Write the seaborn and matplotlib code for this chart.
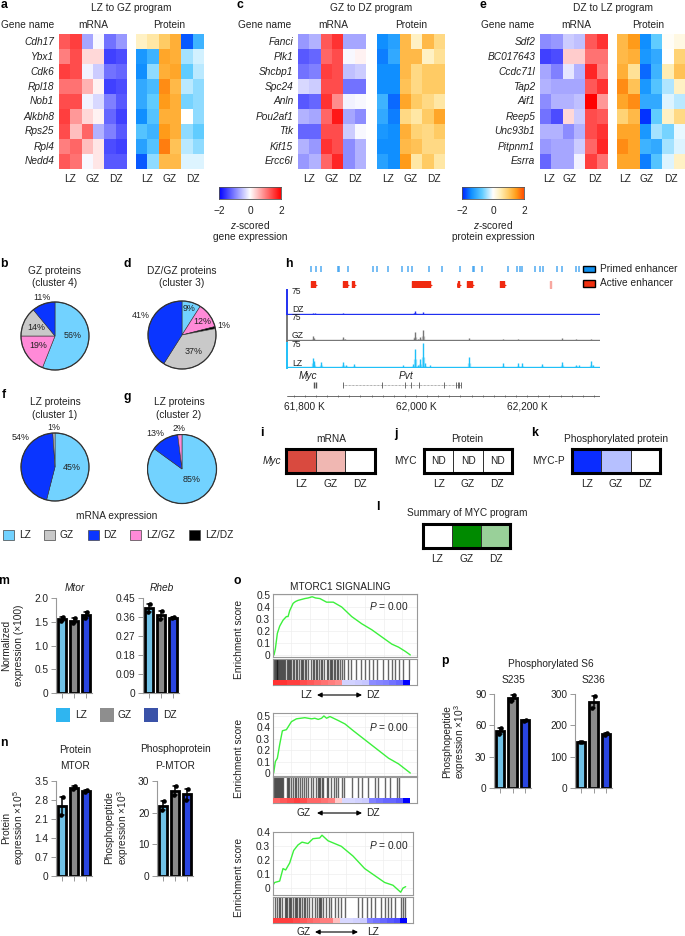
import numpy as np
import pandas as pd
import seaborn as sns
import matplotlib
matplotlib.use('Agg')
import matplotlib.pyplot as plt
from matplotlib.colors import LinearSegmentedColormap as LSC
from matplotlib.patches import Rectangle, FancyArrowPatch

W, H = 685, 936
sns.set_theme(style='white')
plt.rcParams['font.family'] = ['Liberation Sans', 'DejaVu Sans']
plt.rcParams['mathtext.fontset'] = 'custom'
plt.rcParams['mathtext.rm'] = 'Liberation Sans'
plt.rcParams['mathtext.it'] = 'Liberation Sans:italic'
plt.rcParams['mathtext.default'] = 'regular'
plt.rcParams['axes.unicode_minus'] = True
TXT = '#222222'
FS = 7.3

# ---------- heat map data ----------
genes_a = ['Cdh17', 'Ybx1', 'Cdk6', 'Rpl18', 'Nob1', 'Alkbh8', 'Rps25', 'Rpl4', 'Nedd4']
mrna_a = [[1.3, 1.5, -.7, -.05, -1.1, -.8], [1.0, 1.4, .3, .3, -1.5, -1.4], [1.5, 1.4, -.1, -.4, -1.1, -1.2],
          [1.1, 1.1, .6, .1, -1.5, -1.4], [1.4, 1.4, -.1, -.3, -1.0, -1.3], [1.5, .8, .3, .1, -1.2, -1.5],
          [1.4, .5, 1.2, -.6, -1.0, -1.3], [1.0, 1.2, .5, .2, -1.4, -1.5], [1.3, 1.1, -.05, .2, -1.3, -1.3]]
prot_a = [[.4, .6, 1.0, 1.3, -1.7, -1.0], [-1.3, -1.0, 1.4, 1.3, -.4, -.2], [-1.4, -.5, 1.3, 1.4, -.7, -.3],
          [-1.1, -.9, 1.6, 1.2, -.3, -.5], [-1.1, -.7, 1.5, 1.3, -.6, -.5], [-1.4, -.8, 1.3, 1.3, 0, -.5],
          [-.8, -1.0, 1.5, 1.3, -.5, -.7], [-1.2, -.8, 1.7, 1.1, -.3, -.5], [-1.7, -.5, 1.2, 1.2, -.15, -.15]]
genes_c = ['Fanci', 'Plk1', 'Shcbp1', 'Spc24', 'Anln', 'Pou2af1', 'Ttk', 'Kif15', 'Ercc6l']
mrna_c = [[-.8, -.6, 1.3, 1.6, -.7, -.7], [-1.3, -1.2, 1.2, 1.4, -.05, .1], [-1.1, -1.0, 1.5, 1.4, -.5, -.4],
          [-.3, -.4, 1.4, 1.4, -1.1, -1.1], [-1.3, -1.2, 1.6, .9, -.1, -.05], [-.6, -.7, 1.2, 1.8, -.7, -.9],
          [-1.2, -1.2, 1.4, 1.4, -.4, -.05], [-.6, -.8, 1.6, 1.4, -.9, -.6], [-.8, -.6, 1.2, 1.7, -.9, -.6]]
prot_c = [[-1.4, -1.2, 1.2, .4, 1.2, .8], [-1.5, -1.1, 1.2, 1.2, .4, .7], [-1.4, -1.4, 1.2, .8, 1.0, 1.0],
          [-1.4, -1.4, 1.1, .8, 1.0, 1.0], [-1.0, -1.6, 1.4, 1.0, .8, .6], [-1.1, -1.5, .8, .6, 1.0, 1.4],
          [-1.3, -1.4, 1.3, .9, .8, 1.0], [-1.4, -1.4, 1.2, 1.1, .8, .8], [-1.2, -1.4, 1.5, .6, 1.0, .6]]
genes_e = ['Sdf2', 'BC017643', 'Ccdc71l', 'Tap2', 'Aif1', 'Reep5', 'Unc93b1', 'Pitpnm1', 'Esrra']
mrna_e = [[-.9, -.8, -.4, -.5, 1.3, 1.6], [-1.5, -1.4, .4, .4, 1.1, 1.1], [-.7, -1.0, -.2, -.6, 1.7, 1.0],
          [-.6, -.7, -.7, -.7, 1.3, 1.6], [-.9, -.6, -.6, -.5, 2.0, .8], [-1.1, -1.4, .3, -.4, 1.4, 1.3],
          [-.6, -.6, -.9, -.6, 1.4, 1.6], [-.8, -.7, -.7, -.4, 1.2, 1.7], [-1.2, -.7, -.7, -.1, 1.5, 1.1]]
prot_e = [[1.2, 1.5, -1.4, -.7, .05, .2], [1.2, 1.3, -1.3, -1.1, 0, .9], [1.3, .7, -1.6, -1.0, .5, 1.1],
          [1.6, 1.1, -1.3, -.8, -.35, .4], [1.4, 1.6, -1.1, -1.1, -.15, -.3], [.9, 1.2, -1.9, -.7, .4, .8],
          [1.4, 1.4, -1.3, -.4, -.6, -.1], [1.6, 1.4, -1.0, -1.1, -.4, -.15], [1.4, 1.4, -1.5, -.8, -.15, .4]]
zones = ['LZ', 'GZ', 'DZ']

# ---------- pie data ----------
pie_names = ['LZ', 'GZ', 'DZ', 'LZ/GZ', 'LZ/DZ']
pie_colors = {'LZ': '#72d2ff', 'GZ': '#c9c9c9', 'DZ': '#0a35ff', 'LZ/GZ': '#ff8ad8', 'LZ/DZ': '#000000'}
pie_b = (['LZ', 'LZ/GZ', 'GZ', 'DZ'], [56, 19, 14, 11], ['56%', '19%', '14%', '11%'])
pie_d = (['LZ', 'LZ/GZ', 'LZ/DZ', 'GZ', 'DZ'], [9, 12, 1, 37, 41], ['9%', '12%', '1%', '37%', '41%'])
pie_f = (['LZ', 'DZ', 'GZ'], [54, 45, 1], ['45%', '54%', '1%'])
pie_g = (['LZ', 'DZ', 'LZ/GZ'], [85, 13, 2], ['85%', '13%', '2%'])

# ---------- track data (kb) ----------
primed_kb = [61812, 61820, 61829, 61860, 61862, 61877, 61922, 61929, 61950, 61974, 61986, 61992, 62023, 62047,
             62080, 62102, 62105, 62118, 62166, 62181, 62187, 62190, 62214, 62223, 62229, 62254, 62263, 62288, 62293]
active_kb = [(61812, 6), (61868, 8), (61885, 3), (61992, 27), (62022, 4), (62075, 3), (62091, 10), (62151, 8), (62241, 1.5)]
lz_kb = [61814, 61817, 61830, 61869, 61875, 61888, 61923, 61976, 61995, 61999, 62004, 62008, 62012, 62016, 62026,
         62076, 62096, 62103, 62141, 62157, 62183, 62190, 62226, 62262, 62288, 62293, 62314, 62318]
lz_h = [30, 20, 18, 18, 10, 12, 4, 8, 12, 58, 10, 28, 75, 15, 8, 4, 34, 4, 4, 14, 14, 14, 12, 18, 10, 8, 20, 8]
gz_kb = [61814, 61817, 61869, 61873, 61976, 61996, 61999, 62004, 62008, 62013, 62018, 62096, 62157, 62183, 62190,
         62262, 62288, 62293, 62314]
gz_h = [16, 10, 12, 6, 4, 10, 26, 6, 12, 32, 4, 10, 5, 6, 4, 8, 7, 3, 6]
dz_kb = [61814, 61818, 61869, 61923, 61976, 61996, 61999, 62012, 62016, 62096, 62157, 62262, 62288, 62314]
dz_h = [7, 7, 5, 2, 2, 5, 12, 10, 3, 2, 3, 2, 2, 2]
pvt_exons = [61869, 61938, 61980, 61991, 62006, 62050, 62072, 62075, 62078, 62081]
myc_exons = [61817, 61820]
ruler_labels = {61800: '61,800 K', 62000: '62,000 K', 62200: '62,200 K'}

# ---------- small heat strips ----------
myc_mrna = [1.0, .4, 0]
myc_phos = [1.0, .3, 0]
myc_summary = [0, 1.0, .4]

# ---------- bar data: two replicates per zone ----------
bars = {
    'Mtor': [[1.52, 1.6], [1.47, 1.58], [1.58, 1.7]],
    'Rheb': [[.385, .42], [.35, .39], [.355, .36]],
    'MTOR': [[2.25, 2.9], [3.2, 3.3], [3.08, 3.16]],
    'P-MTOR': [[20.8, 23.6], [25.5, 28.5], [24, 27.5]],
    'S235': [[52, 57], [83, 89], [64.5, 65.5]],
    'S236': [[146, 148], [255, 295], [168, 175]],
}
bar_colors = ['#5cc8fa', '#8a8a8a', '#0a30ff']

# ---------- GSEA data ----------
rank1 = [148, 152, 158, 165, 175, 185, 190, 195, 205, 212, 220, 240, 250, 262, 272, 285, 295, 305, 315, 325, 350, 380, 410, 440, 470, 500, 520, 540, 555]
es1 = [0, .05, .18, .24, .29, .32, .32, .37, .43, .445, .455, .47, .475, .485, .475, .47, .455, .44, .44, .44, .40, .32, .26, .21, .15, .09, .065, .03, 0]
rank2 = [147, 152, 158, 165, 173, 185, 200, 215, 240, 250, 260, 270, 280, 290, 297, 305, 315, 340, 360, 385, 420, 455, 490, 520, 555]
es2 = [0, .1, .13, .25, .37, .38, .45, .475, .485, .48, .475, .48, .47, .48, .5, .48, .495, .46, .43, .37, .29, .21, .13, .08, 0]
rank3 = [145, 150, 165, 175, 183, 195, 207, 220, 232, 250, 265, 285, 292, 310, 350, 385, 420, 450, 480, 505, 528, 535, 543]
es3 = [.02, .04, .05, .14, .13, .18, .27, .31, .33, .32, .355, .36, .38, .34, .30, .23, .14, .09, .04, .02, -.03, 0, .01]
hits1 = [149, 151, 153, 156, 158, 160, 163, 166, 168, 172, 175, 178, 182, 186, 190, 193, 196, 200, 204, 208, 213, 218, 222, 228, 232, 236, 240, 244, 250, 258, 264, 268, 272, 276, 283, 288, 292, 298, 306, 310, 314, 318, 322, 326, 330, 335, 340, 346, 352, 358, 368, 378, 392, 408, 420, 432, 444, 456, 472, 488, 500, 508, 520, 532, 550]
hits2 = [148, 150, 153, 156, 159, 162, 165, 168, 171, 174, 186, 190, 194, 200, 206, 210, 214, 220, 226, 232, 238, 244, 250, 258, 264, 272, 278, 282, 286, 290, 294, 306, 310, 318, 326, 332, 340, 350, 358, 382, 398, 412, 428, 450, 458, 478, 494, 516, 522]
hits3 = [150, 158, 163, 166, 172, 180, 183, 187, 192, 196, 200, 205, 210, 214, 218, 222, 226, 232, 238, 242, 248, 254, 262, 270, 276, 282, 286, 290, 296, 304, 312, 320, 330, 340, 350, 362, 400, 412, 428, 438, 452, 470, 480, 490, 498, 510, 528, 536, 540]
strip1 = [1.6, 1.6, 1.5, 1.5, 1.4, 1.3, 1.2, 1.1, 1.0, .9, -.35, -.35, -.4, -.45, -.9, -.95, -1.0, -1.1, -1.2, -2]
strip2 = [1.2, 1.3, 1.4, 1.5, 1.4, 1.2, 1.2, 1.1, 1.0, .4, -.3, -.3, -.35, -.4, -1.0, -1.1, -1.2, -1.2, -1.3, -2]
strip3 = [1.5, 1.5, 1.5, 1.4, 1.3, 1.2, 1.1, 1.0, 1.0, .5, -.3, -.3, -.35, -.4, -1.0, -1.1, -1.2, -1.3, -1.4, -2]

# ---------- helpers ----------
fig = plt.figure(figsize=(W / 100, H / 100), dpi=100, facecolor='white')


def axpx(x0, y0, x1, y1, **kw):
    return fig.add_axes([x0 / W, 1 - y1 / H, (x1 - x0) / W, (y1 - y0) / H], **kw)


def T(x, y, s, ha='center', va='center', size=FS, color=TXT, **kw):
    return fig.text(x / W, 1 - y / H, s, ha=ha, va=va, fontsize=size, color=color, **kw)


prot_cmap = LSC.from_list('prot', [(0, '#0020ff'), (.15, '#1090ff'), (.325, '#60ccff'), (.5, '#ffffff'),
                                   (.625, '#ffeeb5'), (.75, '#ffcc66'), (.875, '#ff9d1a'), (1, '#ff4d00')])
gene_cmap = 'bwr'


def heat(vals, x0, x1, y0, y1, cmap, genes=None, ticks=(1, 3, 5)):
    ax = axpx(x0, y0, x1, y1)
    sns.heatmap(np.array(vals), cmap=cmap, vmin=-2, vmax=2, cbar=False, ax=ax, xticklabels=False,
                yticklabels=genes if genes else False)
    ax.set_xticks(list(ticks))
    ax.set_xticklabels(zones, fontsize=FS, color=TXT, rotation=0)
    ax.tick_params(axis='both', length=0, pad=3.6)
    if genes:
        ax.set_yticklabels(genes, rotation=0, style='italic', fontsize=FS, color=TXT)
        ax.tick_params(axis='y', pad=3.4)
    return ax


Y0, Y1 = 34, 169
heat(mrna_a, 59, 127, Y0, Y1, gene_cmap, genes_a)
heat(prot_a, 136, 204, Y0, Y1, prot_cmap)
heat(mrna_c, 298, 366, Y0, Y1, gene_cmap, genes_c)
heat(prot_c, 377, 445, Y0, Y1, prot_cmap)
heat(mrna_e, 540, 608, Y0, Y1, gene_cmap, genes_e, ticks=(.8, 2.65, 4.85))
heat(prot_e, 617, 685, Y0, Y1, prot_cmap, ticks=(.7, 2.65, 4.8))

for cx, t in [(131, 'LZ to GZ program'), (371, 'GZ to DZ program'), (613, 'DZ to LZ program')]:
    T(cx, 8, t)
T(54, 25, 'Gene name', ha='right'); T(93, 25, 'mRNA'); T(169, 25, 'Protein')
T(291, 25, 'Gene name', ha='right'); T(333, 25, 'mRNA'); T(411, 25, 'Protein')
T(534, 25, 'Gene name', ha='right'); T(576, 25, 'mRNA'); T(648, 25, 'Protein')

# colour bars
grad = np.linspace(-2, 2, 256)[None, :]
for x0, cmap, cx, lab in [(219, gene_cmap, 250, 'gene expression'), (462, prot_cmap, 493, 'protein expression')]:
    ax = axpx(x0, 187, x0 + 62, 199)
    ax.imshow(grad, cmap=cmap, vmin=-2, vmax=2, aspect='auto', extent=(-2, 2, 0, 1))
    ax.set_yticks([])
    ax.set_xticks([-2, -1, 0, 1, 2])
    ax.set_xticklabels(['\u22122', '', '0', '', '2'], fontsize=FS, color=TXT)
    ax.tick_params(axis='x', length=2, width=.6, pad=3, color='#555555')
    for s in ax.spines.values():
        s.set_linewidth(.6); s.set_color('#555555')
    T(cx, 225, '$\\mathit{z}$-scored')
    T(cx, 237, lab)


# ---------- pies ----------
def pie(cx, cy, r, spec):
    names, vals, _ = spec
    ax = axpx(cx - r - 1, cy - r - 1, cx + r + 1, cy + r + 1)
    ax.pie(vals, colors=[pie_colors[n] for n in names], startangle=90, counterclock=False,
           radius=r / (r + 1), wedgeprops=dict(edgecolor='#333333', linewidth=.4))
    ax.set_xlim(-1, 1); ax.set_ylim(-1, 1)
    ax.add_patch(plt.Circle((0, 0), r / (r + 1), fill=False, ec='#333333', lw=.9))


pie(55, 336, 34, pie_b); pie(182, 335, 34, pie_d); pie(55, 467, 34, pie_f); pie(182, 469, 34.5, pie_g)
PS = 6.4
for (x, y), s in zip([(73, 336), (38, 346), (36, 328), (42, 297)], pie_b[2]):
    T(x, y, s, size=PS)
for (x, y), s in zip([(189, 309), (202, 321), (224, 325), (194, 351), (141, 315)], pie_d[2]):
    T(x, y, s, size=PS)
for (x, y), s in zip([(72, 468), (21, 438), (54, 428)], pie_f[2]):
    T(x, y, s, size=PS)
for (x, y), s in zip([(192, 480), (155, 434), (179, 429)], pie_g[2]):
    T(x, y, s, size=PS)
T(55, 271, 'GZ proteins'); T(55, 283.5, '(cluster 4)')
T(182, 271, 'DZ/GZ proteins'); T(182, 283.5, '(cluster 3)')
T(55, 402, 'LZ proteins'); T(55, 414.5, '(cluster 1)')
T(179, 402, 'LZ proteins'); T(179, 414.5, '(cluster 2)')
T(117, 516, 'mRNA expression')
for (sx, tx), n in zip([(3, 19), (44, 59), (88, 103), (130, 146), (189, 205)], pie_names):
    fig.add_artist(Rectangle((sx / W, 1 - 540 / H), 11 / W, 10 / H, transform=fig.transFigure,
                             fc=pie_colors[n], ec='#444444', lw=.5))
    T(tx, 535, n, ha='left')

# ---------- h: tracks ----------
X0, X1 = 287, 600
KB0, KB1 = 61768, 62331


def trackax(y0, y1):
    ax = axpx(X0, y0, X1, y1)
    ax.set_xlim(KB0, KB1)
    ax.set_xticks([]); ax.set_yticks([])
    ax.patch.set_alpha(0)
    for s in ax.spines.values():
        s.set_visible(False)
    return ax


ax = trackax(266, 272)
ax.vlines(primed_kb, 0, 1, color='#3aa0f0', lw=1.3, alpha=.75)
ax.set_ylim(0, 1)
ax = trackax(281, 288)
ax.broken_barh(active_kb[:-1], (0, 1), color='#f02a10')
ax.broken_barh(active_kb[-1:], (0, 1), color='#f8a8a0')
ax.scatter([s + w for s, w in active_kb[:-1]], [.5] * 8, marker='>', s=12, color='#f02a10', linewidth=0, clip_on=False)
ax.set_ylim(0, 1)
for (y0, y1, c, kb, h, lab) in [(290, 315, '#2030f0', dz_kb, dz_h, 'DZ'), (316, 341, '#777777', gz_kb, gz_h, 'GZ'),
                                (343, 368, '#20c0f8', lz_kb, lz_h, 'LZ')]:
    ax = trackax(y0, y1)
    ax.set_ylim(0, 75)
    ax.vlines(kb, 0, h, color=c, lw=1.0)
    ax.vlines(kb, 0, np.array(h) * .45, color=c, lw=2.4, alpha=.45)
    ax.axhline(0, color=c, lw=1.7)
    ax.spines['left'].set_visible(True)
    ax.spines['left'].set_color(c)
    ax.spines['left'].set_linewidth(1.4)
    T(292, y0 + 1.5, '75', ha='left', size=6.2)
    T(292, y1 - 5, lab, ha='left', size=6.2)
ax = trackax(378, 400)
ax.set_ylim(400, 378)
ax.vlines(myc_exons, 382, 388, color='#555555', lw=1)
ax.plot([pvt_exons[0], pvt_exons[-1]], [385, 385], color='#666666', lw=.5, ls=(0, (1, 1)))
ax.vlines(pvt_exons, 382, 388, color='#555555', lw=.6)
ax.axhline(396, color='#555555', lw=.6)
ax.vlines(np.arange(61780, 62331, 20), 395, 397, color='#555555', lw=.5)
for k, s in ruler_labels.items():
    ax.text(k, 406.5, s, ha='center', va='center', fontsize=FS, color=TXT, clip_on=False)
T(308, 376, 'Myc', style='italic'); T(406, 376, 'Pvt', style='italic')
for y, c, s in [(269, '#1090f0', 'Primed enhancer'), (283.5, '#f03010', 'Active enhancer')]:
    fig.add_artist(Rectangle((583 / W, 1 - (y + 3.3) / H), 12 / W, 6.6 / H, transform=fig.transFigure,
                             fc=c, ec='black', lw=1))
    T(600, y, s, ha='left')


# ---------- i j k l ----------
def strip(vals, x0, y0, x1, y1, color, annot=None):
    ax = axpx(x0, y0, x1, y1)
    sns.heatmap(np.array([vals]), cmap=LSC.from_list('s', ['#ffffff', color]), vmin=0, vmax=1, cbar=False, ax=ax,
                linewidths=.7, linecolor='#333333', annot=annot, fmt='', annot_kws=dict(fontsize=FS, color=TXT),
                xticklabels=False, yticklabels=False)
    for s in ax.spines.values():
        s.set_visible(True); s.set_color('black'); s.set_linewidth(2.2)
    ax.set_xticks([.5, 1.5, 2.5])
    ax.set_xticklabels(zones, fontsize=FS, color=TXT, rotation=0)
    ax.tick_params(axis='x', length=0, pad=4.5)


strip(myc_mrna, 286, 449, 375, 473, '#d94a3f')
strip([0, 0, 0], 424, 449, 512, 473, '#ffffff', annot=[['ND', 'ND', 'ND']])
strip(myc_phos, 572, 449, 660, 473, '#0a2cff')
strip(myc_summary, 423, 523.5, 510, 547.5, '#008a00')
T(331, 439, 'mRNA'); T(467, 439, 'Protein'); T(616, 439, 'Phosphorylated protein')
T(467, 513, 'Summary of MYC program')
T(281, 461, 'Myc', ha='right', style='italic'); T(417, 461, 'MYC', ha='right'); T(565, 461, 'MYC-P', ha='right')


# ---------- bars ----------
def barp(key, x0, x1, y0, y1, ymax, ticks, labels):
    ax = axpx(x0, y0, x1, y1)
    rep = bars[key]
    df = pd.DataFrame({'zone': [z for z in zones for _ in range(2)], 'v': [v for r in rep for v in r]})
    sns.barplot(df, x='zone', y='v', hue='zone', order=zones, hue_order=zones, palette=bar_colors, legend=False,
                width=.68, edgecolor='black', linewidth=2.0, errorbar='se', capsize=.3,
                err_kws=dict(color='black', linewidth=1.1), ax=ax)
    dots = pd.DataFrame({'x': [i + o for i in range(3) for o in (-.1, .1)], 'v': df['v']})
    sns.scatterplot(dots, x='x', y='v', color='black', s=11, linewidth=0, ax=ax, zorder=5, clip_on=False)
    ax.set_xlim(-.5, 2.5); ax.set_ylim(0, ymax)
    ax.set_xlabel(''); ax.set_ylabel('')
    ax.set_xticks([0, 1, 2]); ax.set_xticklabels([])
    ax.set_yticks(ticks); ax.set_yticklabels(labels, fontsize=FS, color=TXT)
    ax.tick_params(axis='both', length=3.5, width=.7, color='#999999', pad=2, left=True, bottom=True)
    for s in ['top', 'right']:
        ax.spines[s].set_visible(False)
    for s in ['left', 'bottom']:
        ax.spines[s].set_color('#999999'); ax.spines[s].set_linewidth(.8)


barp('Mtor', 56, 92, 598, 693, 2.0, [0, .5, 1, 1.5, 2], ['0', '0.5', '1.0', '1.5', '2.0'])
barp('Rheb', 143, 179, 598, 693, .45, [0, .09, .18, .27, .36, .45], ['0', '0.09', '0.18', '0.27', '0.36', '0.45'])
barp('MTOR', 56, 92, 781, 876, 3.5, [0, .7, 1.4, 2.1, 2.8, 3.5], ['0', '0.7', '1.4', '2.1', '2.8', '3.5'])
barp('P-MTOR', 157, 193, 781, 876, 30, [0, 10, 20, 30], ['0', '10', '20', '30'])
barp('S235', 494, 531, 694, 788, 90, [0, 30, 60, 90], ['0', '30', '60', '90'])
barp('S236', 575, 612, 694, 788, 300, [0, 100, 200, 300], ['0', '100', '200', '300'])
T(75, 588, 'Mtor', style='italic'); T(162, 588, 'Rheb', style='italic')
T(6, 645, 'Normalized', rotation=90); T(19, 645, 'expression (\u00d7100)', rotation=90)
for (a, b), c, n in zip([(56, 75), (100, 118), (144, 163)], ['#2fb5f0', '#8e8e8e', '#3a52a8'], zones):
    fig.add_artist(Rectangle((a / W, 1 - 722 / H), 14 / W, 14 / H, transform=fig.transFigure, fc=c, ec='none'))
    T(b, 715, n, ha='left')
T(75, 750, 'Protein'); T(75, 766, 'MTOR')
T(175, 749, 'Phosphoprotein'); T(175, 766, 'P-MTOR')
T(6, 828, 'Protein', rotation=90); T(19, 828, 'expression \u00d710$^{5}$', rotation=90)
T(109, 828, 'Phosphopeptide', rotation=90); T(123, 828, 'expression \u00d710$^{3}$', rotation=90)
T(551, 664, 'Phosphorylated S6'); T(513, 680, 'S235'); T(593, 680, 'S236')
T(447, 742, 'Phosphopeptide', rotation=90); T(460, 742, 'expression \u00d710$^{3}$', rotation=90)


# ---------- o: GSEA ----------
def gsea(rank, es, hits, stripv, xr, xlim_r, ytop, ybot, ylim, yt, hy0, hy1, sy0, sxr):
    ax = axpx(273, ytop, xr, ybot)
    sns.lineplot(x=rank, y=es, color='#3cf03c', lw=1.0, ax=ax, estimator=None, sort=False)
    ax.set_xlim(145, xlim_r); ax.set_ylim(*ylim)
    ax.set_yticks(yt)
    ax.set_yticklabels(['0' if v == 0 else f'{v:.1f}' for v in yt], fontsize=FS, color=TXT)
    ax.set_xticks(np.arange(200, xlim_r, 55))
    ax.set_xticklabels([])
    ax.grid(True, color='#eeeeee', lw=.5)
    ax.tick_params(length=0, pad=2)
    for s in ax.spines.values():
        s.set_color('#999999'); s.set_linewidth(.8)
    ah = axpx(273, hy0, xr, hy1)
    ah.vlines(hits, sy0, hy0, color='black', lw=1.0, alpha=.6)
    ah.set_xlim(145, xlim_r); ah.set_ylim(hy1, hy0)
    ah.set_xticks([]); ah.set_yticks([])
    for s in ah.spines.values():
        s.set_color('#999999'); s.set_linewidth(.8)
    ast = axpx(273, sy0, sxr, hy1)
    sns.heatmap(np.array([stripv]), cmap=gene_cmap, vmin=-2, vmax=2, cbar=False, ax=ast,
                xticklabels=False, yticklabels=False)


gsea(rank1, es1, hits1, strip1, 417, 575, 594, 657, (-.017, .508), [0, .1, .2, .3, .4, .5], 659, 685, 680, 410)
gsea(rank2, es2, hits2, strip2, 417, 575, 713, 776, (-.026, .526), [0, .1, .2, .3, .4, .5], 777, 803, 798, 410)
gsea(rank3, es3, hits3, strip3, 413, 565, 832, 895, (-.05, .403), [0, .1, .2, .3, .4], 897, 923, 918, 407)
T(340, 587, 'MTORC1 SIGNALING')
for y, yp in [(639, 606), (758, 727), (877, 845)]:
    T(239, y, 'Enrichment score', rotation=90)
    T(409, yp, '$\\mathit{P}$ = 0.00', ha='right')
for y, a, b, xa, xb, x2 in [(695, 'LZ', 'DZ', 317, 362, 306), (813, 'GZ', 'DZ', 317, 362, 304), (932, 'GZ', 'LZ', 315, 358, 304)]:
    T(x2, y, a); T(373, y, b)
    fig.add_artist(FancyArrowPatch((xa / W, 1 - y / H), (xb / W, 1 - y / H), transform=fig.transFigure,
                                   arrowstyle='<|-|>', mutation_scale=7, color='black', lw=.8, shrinkA=0, shrinkB=0))

# ---------- panel letters ----------
for (x, y), s in zip([(4, 5), (240, 5), (483, 5), (4, 264), (127, 264), (4, 395), (127, 397), (289, 264), (262, 433),
                      (396, 434), (535, 433), (378, 507), (4, 581), (4, 743), (237, 581), (445, 661)],
                     'acebdfghijklmnop'):
    T(x, y, s, weight='bold', size=8.8, color='black')

fig.savefig('out.png', dpi=100)
